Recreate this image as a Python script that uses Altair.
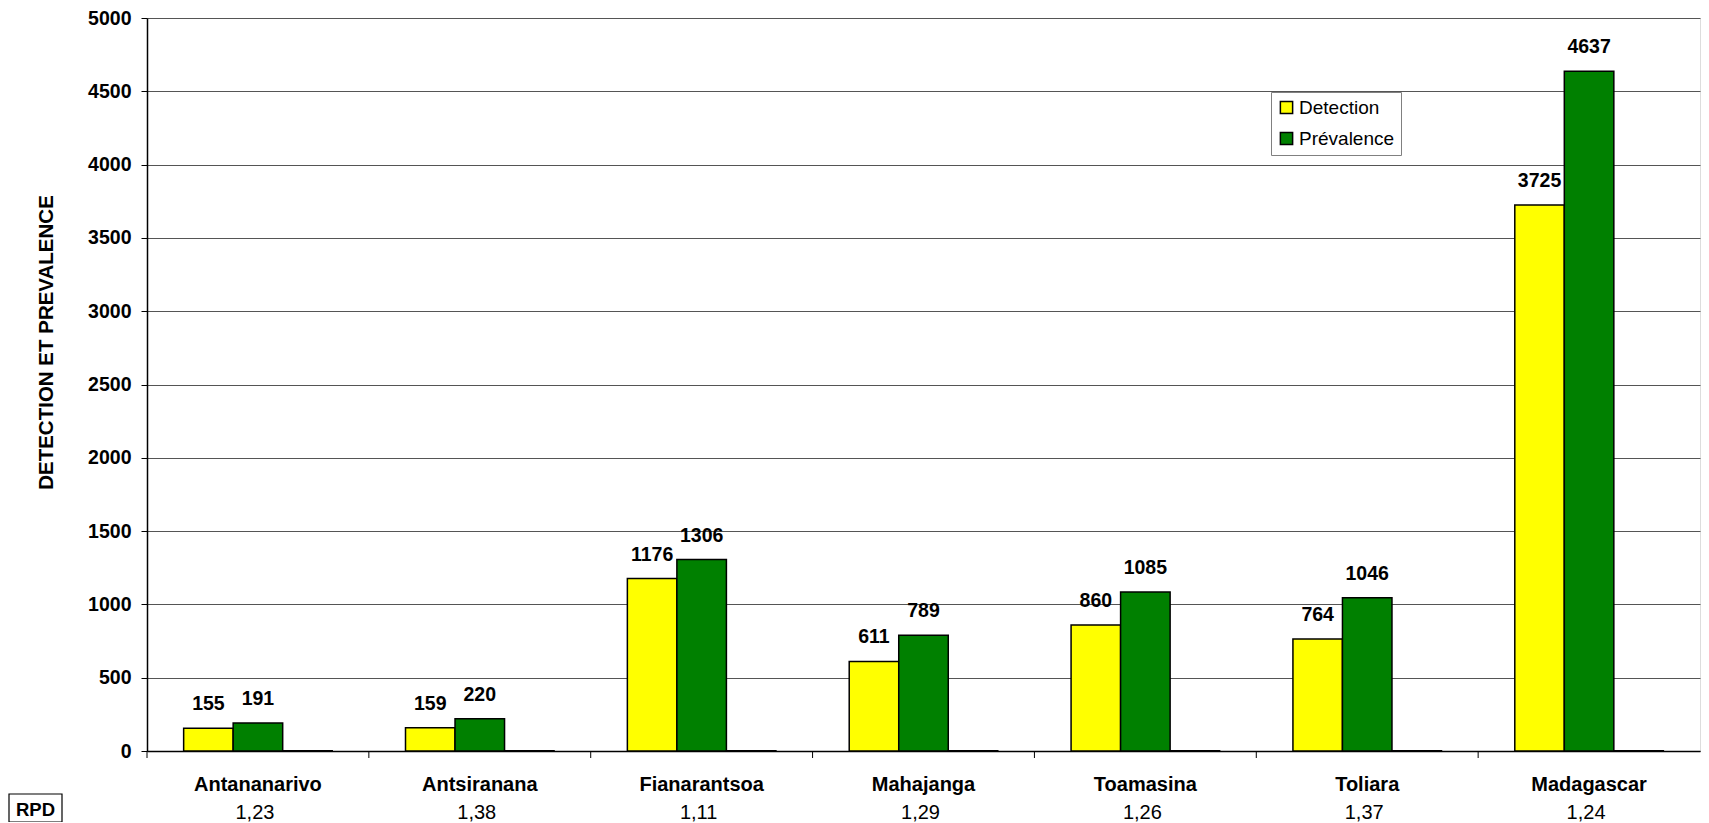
import altair as alt
import pandas as pd

regions = ["Antananarivo", "Antsiranana", "Fianarantsoa", "Mahajanga", "Toamasina", "Toliara", "Madagascar"]
detection = [155, 159, 1176, 611, 860, 764, 3725]
prevalence = [191, 220, 1306, 789, 1085, 1046, 4637]
rpd = [1.23, 1.38, 1.11, 1.29, 1.26, 1.37, 1.24]
series = ["Detection", "Prévalence", "RPD"]
colors = ["#FFFF00", "#008000", "#FFFFFF"]
y_ticks = [0, 500, 1000, 1500, 2000, 2500, 3000, 3500, 4000, 4500, 5000]

rows = []
for r, d, p, q in zip(regions, detection, prevalence, rpd):
    rows.append({"region": r, "series": "Detection", "value": d, "label": str(d)})
    rows.append({"region": r, "series": "Prévalence", "value": p, "label": str(p)})
    rows.append({"region": r, "series": "RPD", "value": q, "label": ""})
df = pd.DataFrame(rows)
rpd_df = pd.DataFrame({"region": regions, "rpd": [f"{v:.2f}".replace(".", ",") for v in rpd]})

FONT = "Liberation Sans"
W, H = 1553, 733

xscale = alt.Scale(paddingInner=0, paddingOuter=0)
xoff = alt.XOffset("series:N", sort=series, scale=alt.Scale(paddingInner=0, paddingOuter=0.74))

base = alt.Chart(df)

bars = base.mark_bar(stroke="black", strokeWidth=1.5).encode(
    x=alt.X("region:N", sort=regions, scale=xscale,
            axis=alt.Axis(title=None, ticks=False, labelFont=FONT, labelFontSize=20,
                          labelFontWeight="bold", labelColor="black", labelPadding=23,
                          domainColor="black", domainWidth=1.5, labelAngle=0)),
    xOffset=xoff,
    y=alt.Y("value:Q", scale=alt.Scale(domain=[0, 5000], nice=False),
            axis=alt.Axis(values=y_ticks, format="d", title="DETECTION ET PREVALENCE",
                          titleFont=FONT, titleFontSize=20.5, titleFontWeight="bold",
                          titleColor="black", titleAngle=270, titleX=-101, titleY=324,
                          titleAlign="center", titleBaseline="middle",
                          labelFont=FONT, labelFontSize=19.5, labelFontWeight="bold",
                          labelColor="black", labelPadding=10, tickSize=6, tickColor="black",
                          domainColor="black", domainWidth=1.5,
                          grid=True, gridColor="#555555", gridWidth=1)),
    color=alt.Color("series:N", sort=series,
                    scale=alt.Scale(domain=series, range=colors),
                    legend=alt.Legend(values=["Detection", "Prévalence"], title=None,
                                      orient="none", legendX=1124, legendY=74,
                                      labelFont=FONT, labelFontSize=19, labelColor="black",
                                      symbolType="square", symbolSize=150,
                                      symbolStrokeColor="black", symbolStrokeWidth=1.5,
                                      symbolOpacity=1,
                                      fillColor="white", strokeColor="#808080",
                                      padding=6, rowPadding=11, labelOffset=3)),
)

labels = base.transform_filter(alt.datum.series != "RPD").mark_text(
    font=FONT, fontSize=19.5, fontWeight="bold", color="black", baseline="middle", dy=-24
).encode(
    x=alt.X("region:N", sort=regions, scale=xscale),
    xOffset=xoff,
    y=alt.Y("value:Q"),
    text="label:N",
)

ticks = alt.Chart(rpd_df).mark_rule(color="black", strokeWidth=1).encode(
    x=alt.X("region:N", sort=regions, scale=xscale, bandPosition=0),
    y=alt.value(H),
    y2=alt.value(H + 7),
)

rpd_text = alt.Chart(rpd_df).mark_text(
    font=FONT, fontSize=20, color="black", baseline="middle", dx=-3
).encode(
    x=alt.X("region:N", sort=regions, scale=xscale, bandPosition=0.5),
    y=alt.value(H + 62),
    text="rpd:N",
)

box_df = pd.DataFrame({"t": ["RPD"]})
rpd_box = alt.Chart(box_df).mark_rect(fill="white", stroke="black", strokeWidth=1.2).encode(
    x=alt.value(-138), x2=alt.value(-85), y=alt.value(H + 43), y2=alt.value(H + 71)
)
rpd_label = alt.Chart(box_df).mark_text(
    font=FONT, fontSize=18.5, fontWeight="bold", color="black", baseline="middle"
).encode(x=alt.value(-111.5), y=alt.value(H + 58.5), text="t:N")

chart = alt.layer(bars, labels, ticks, rpd_text, rpd_box, rpd_label).properties(
    width=W, height=H,
    autosize=alt.AutoSizeParams(type="none"),
    padding={"left": 139, "top": 10, "right": 1, "bottom": 71},
).configure_view(stroke="#555555", strokeWidth=1).configure(background="white")

chart.save("out.html", embed_options={"renderer": "svg", "actions": False})
